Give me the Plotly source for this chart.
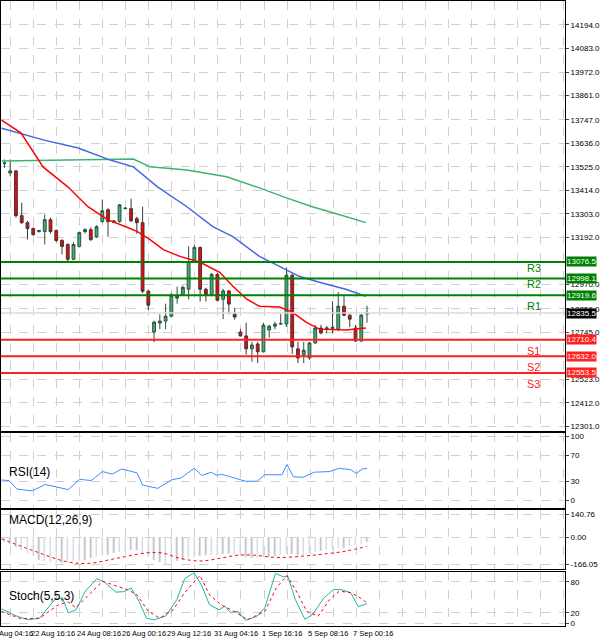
import plotly.graph_objects as go
from plotly.subplots import make_subplots

# candle OHLC
opens = [13540, 13496, 13506, 13295, 13262, 13234, 13220, 13220, 13276, 13225, 13178, 13159, 13089, 13150, 13220, 13229,
         13196, 13267, 13323, 13270, 13267, 13328, 13328, 13281, 13262, 12939, 12746, 12789, 12798, 12821, 12906, 12924,
         12948, 13079, 13145, 12948, 12924, 13018, 12901, 12940, 12831, 12746, 12728, 12667, 12690, 12653, 12756, 12774,
         12784, 12784, 13014, 12667, 12640, 12624, 12695, 12765, 12760, 12762, 12760, 12868, 12826, 12765, 12704, 12831]
highs = [13560, 13560, 13510, 13356, 13270, 13240, 13228, 13300, 13285, 13230, 13185, 13165, 13170, 13220, 13235, 13240,
         13250, 13370, 13330, 13275, 13350, 13335, 13375, 13290, 13337, 12945, 12800, 12830, 12880, 12930, 12960, 12965,
         13150, 13159, 13150, 12955, 13025, 13025, 12950, 12945, 12860, 12760, 12790, 12700, 12700, 12790, 12780, 12795,
         12830, 13051, 13020, 12700, 12700, 12700, 12780, 12780, 12775, 12892, 12934, 12915, 12830, 12780, 12830, 12870]
lows = [13520, 13480, 13285, 13255, 13182, 13200, 13215, 13159, 13210, 13170, 13112, 13080, 13085, 13145, 13210, 13175,
        13190, 13262, 13196, 13260, 13262, 13325, 13265, 13210, 12930, 12850, 12699, 12760, 12760, 12815, 12880, 12920,
        12900, 13075, 12890, 12890, 12915, 12890, 12807, 12830, 12805, 12725, 12640, 12606, 12600, 12650, 12720, 12760,
        12780, 12770, 12643, 12600, 12600, 12615, 12690, 12735, 12740, 12740, 12750, 12820, 12770, 12700, 12700, 12790]
closes = [13543, 13506, 13295, 13262, 13234, 13206, 13225, 13276, 13220, 13178, 13150, 13089, 13159, 13215, 13229, 13182,
          13243, 13318, 13267, 13265, 13346, 13330, 13271, 13262, 12939, 12873, 12793, 12798, 12821, 12920, 12915, 12957,
          13079, 13145, 12948, 12924, 13018, 12896, 12940, 12878, 12817, 12728, 12667, 12685, 12653, 12779, 12774, 12784,
          12786, 13014, 12676, 12624, 12660, 12695, 12765, 12742, 12765, 12768, 12868, 12826, 12807, 12704, 12826, 12835]

# moving averages (index, value)
ma_red_x = [-0.5, 2.9, 6.7, 11, 14.5, 17.9, 21.4, 23.1, 25.3, 27.6, 30.5, 34, 37.4, 39.7, 42.1, 44.3, 47.8, 50, 52.4, 54.7, 59.3, 62.8]
ma_red_y = [13745, 13684, 13525, 13431, 13337, 13276, 13239, 13220, 13182, 13135, 13103, 13075, 13028, 12962, 12901, 12868,
            12864, 12840, 12793, 12760, 12756, 12765]
ma_blue_x = [-0.5, 6.9, 12.8, 18.4, 22.4, 26.6, 31.7, 36.2, 39.7, 44.3, 47.8, 51.2, 54.7, 59.3, 62.8]
ma_blue_y = [13707, 13651, 13614, 13557, 13525, 13431, 13337, 13243, 13196, 13103, 13056, 13009, 12981, 12948, 12915]
ma_green_x = [-0.5, 6.9, 22.4, 25.3, 31.7, 38.6, 44.3, 49, 53.5, 58.1, 62.8]
ma_green_y = [13553, 13557, 13562, 13525, 13510, 13478, 13426, 13379, 13337, 13300, 13262]

levels = [13076.5, 12998.1, 12919.6, 12710.4, 12632.0, 12553.5]
# (name, level index, above/below)
level_tags = [("R3", 1, 'bottom'), ("R2", 2, 'bottom'), ("R1", 2, 'top'),
              ("S1", 3, 'top'), ("S2", 4, 'top'), ("S3", 5, 'top')]
last_price = 12835.5
price_ticks = [14194.0, 14083.0, 13972.0, 13861.0, 13747.0, 13636.0, 13525.0, 13414.0, 13303.0, 13192.0,
               12970.0, 12856.0, 12745.0, 12523.0, 12412.0, 12301.0]

rsi_zx = [0, 20, 40, 80, 115, 175, 205, 235, 265, 290, 315, 355, 370, 410, 445, 470, 505, 525, 550, 565, 575, 600, 640, 670,
          690, 735, 748, 765, 790, 820, 860, 885, 915, 930, 945, 958]
rsi_vals = [32, 31, 18, 15, 25, 17, 33, 31, 45, 41, 49, 43, 24, 19, 32, 35, 50, 39, 44, 39, 41, 37, 30, 30,
            40, 40, 56, 37, 36, 44, 45, 50, 48, 42, 49, 50]

macd_hist = [-30, -40, -60, -80, -100, -115, -140, -150, -155, -160, -160, -155, -150, -145, -140, -130, -125, -115,
             -110, -100, -90, -85, -80, -80, -95, -120, -140, -155, -170, -160, -150, -140, -130, -120, -115, -110,
             -110, -110, -105, -105, -110, -115, -125, -130, -130, -125, -120, -115, -110, -100, -105, -110, -110,
             -100, -90, -85, -80, -75, -70, -65, -55, -50, -40, -30]
macd_sig_x = [-0.5, 4.8, 10.8, 14.7, 19.4, 24.7, 27.3, 30.6, 34, 37.3, 40.6, 43.3, 47.2, 51.9, 55.2, 59.2, 63]
macd_sig = [-10, -80, -150, -160, -130, -96, -96, -130, -146, -130, -110, -110, -124, -116, -104, -86, -56]

stoch_zx = [0, 40, 70, 100, 140, 160, 175, 195, 220, 250, 270, 300, 320, 340, 360, 380, 400, 430, 460, 480, 505, 525, 545,
            570, 585, 600, 620, 640, 670, 690, 718, 740, 750, 770, 795, 815, 845, 870, 890, 915, 935, 958]
stoch_main = [28, 14, 7, 10, 46, 49, 20, 26, 62, 86, 79, 60, 61, 68, 43, 10, 7, 14, 46, 86, 97, 72, 36,
              26, 33, 21, 23, 6, 14, 30, 96, 89, 91, 46, 8, 17, 49, 65, 65, 59, 32, 38]
stoch_sig_zx = [0, 50, 100, 150, 175, 195, 225, 265, 300, 330, 355, 385, 415, 450, 480, 520, 545, 575, 610, 645, 690, 720,
                748, 775, 800, 830, 860, 885, 915, 940, 958]
stoch_sig = [23, 9, 10, 36, 41, 30, 52, 81, 72, 65, 55, 23, 10, 26, 59, 92, 55, 36, 23, 7, 23, 68, 92, 59, 23, 14,
             46, 62, 59, 49, 39]

date_pos = [1.2, 8.5, 16.4, 24.3, 32.1, 40.3, 48.3, 56.2, 64.1]
date_labels = ["19 Aug 04:16", "22 Aug 16:16", "24 Aug 08:16", "26 Aug 00:16", "29 Aug 12:16", "31 Aug 04:16",
               "1 Sep 16:16", "5 Sep 08:16", "7 Sep 00:16"]

FONT = 'Liberation Sans'


def zx_to_idx(v):
    # positions
    return [z / 15.08 - 0.52 for z in v]


idx = list(range(len(opens)))
fig = make_subplots(rows=4, cols=1, shared_xaxes=True, vertical_spacing=0.004,
                    row_heights=[0.69, 0.12, 0.095, 0.087])

fig.add_trace(go.Candlestick(x=idx, open=opens, high=highs, low=lows, close=closes,
                             increasing=dict(fillcolor='#3cb371', line=dict(color='#2f4f3f', width=1)),
                             decreasing=dict(fillcolor='#ff0000', line=dict(color='#3a3a3a', width=1)),
                             whiskerwidth=0, showlegend=False), row=1, col=1)
for xs, ys, c in [(ma_green_x, ma_green_y, '#3cb371'), (ma_blue_x, ma_blue_y, '#4169e1'), (ma_red_x, ma_red_y, '#ff0000')]:
    fig.add_trace(go.Scatter(x=xs, y=ys, mode='lines', line=dict(color=c, width=1.5), showlegend=False), row=1, col=1)

fig.add_hline(y=last_price, line_color='#d8d8d8', line_width=1.5, row=1, col=1)
for i, lv in enumerate(levels):
    col = '#008000' if i < 3 else '#ff2020'
    fig.add_hline(y=lv, line_color=col, line_width=2, row=1, col=1)
    fig.add_annotation(x=1.0, xref='paper', y=lv, yref='y', text='%.1f' % lv, showarrow=False, xanchor='left',
                       xshift=1, bgcolor=col, font=dict(color='white', size=8, family=FONT), borderpad=0)
for name, li, anchor in level_tags:
    col = '#008000' if li < 3 else '#ff2020'
    fig.add_annotation(x=92, xref='x', y=levels[li], yref='y', text=name, showarrow=False, yanchor=anchor,
                       yshift=3 if anchor == 'bottom' else -3, font=dict(color=col, size=11, family=FONT))
fig.add_annotation(x=1.0, xref='paper', y=last_price, yref='y', text='%.1f' % last_price, showarrow=False,
                   xanchor='left', xshift=1, bgcolor='black', font=dict(color='white', size=8, family=FONT),
                   borderpad=0)

fig.add_trace(go.Scatter(x=zx_to_idx(rsi_zx), y=rsi_vals, mode='lines', line=dict(color='#3c8cff', width=1),
                         showlegend=False), row=2, col=1)
fig.add_trace(go.Bar(x=idx, y=macd_hist, marker_color='#c0c0c0', width=0.25, showlegend=False), row=3, col=1)
fig.add_trace(go.Scatter(x=macd_sig_x, y=macd_sig, mode='lines', line=dict(color='#ff0000', width=1, dash='dot'),
                         line_shape='spline', showlegend=False), row=3, col=1)
fig.add_trace(go.Scatter(x=zx_to_idx(stoch_zx), y=stoch_main, mode='lines', line=dict(color='#20b2aa', width=1),
                         showlegend=False), row=4, col=1)
fig.add_trace(go.Scatter(x=zx_to_idx(stoch_sig_zx), y=stoch_sig, mode='lines',
                         line=dict(color='#ff0000', width=1, dash='dot'), showlegend=False), row=4, col=1)

for r, name, shift in [(2, 'RSI(14)', -30), (3, 'MACD(12,26,9)', -1), (4, 'Stoch(5,5,3)', -15)]:
    fig.add_annotation(x=0.01, xref='paper', y=1, yref='y%d domain' % r, text=name, showarrow=False,
                       xanchor='left', yanchor='top', yshift=shift,
                       font=dict(size=12, color='black', family=FONT))

for p, t in zip(date_pos, date_labels):
    fig.add_annotation(x=p, xref='x', y=0, yref='paper', text=t, showarrow=False, xanchor='center', yanchor='top',
                       yshift=-1, font=dict(size=7.5, color='black', family=FONT))

grid = dict(showgrid=True, gridcolor='#d0d0d0', griddash='dash', gridwidth=1)
fig.update_xaxes(range=[-0.6, 97.4], tick0=1.1, dtick=4, showticklabels=False, rangeslider_visible=False,
                 showline=True, linecolor='black', mirror=True, zeroline=False, **grid)
fig.update_yaxes(side='right', showline=True, linecolor='black', mirror=True, zeroline=False, ticks='outside',
                 ticklen=3, tickfont=dict(size=8, color='black', family=FONT), **grid)
fig.update_yaxes(range=[12282, 14307], tickvals=price_ticks, ticktext=['%.1f' % v for v in price_ticks], row=1, col=1)
fig.update_yaxes(range=[-11, 104.7], tickvals=[0, 30, 70, 100], row=2, col=1)
fig.update_yaxes(range=[-197, 166], tickvals=[-166.05, 0, 140.76], ticktext=['-166.05', '0.00', '140.76'], row=3, col=1)
fig.update_yaxes(range=[-5, 99], tickvals=[0, 20, 80, 100], row=4, col=1)

fig.update_layout(width=600, height=640, margin=dict(l=0, r=32, t=0, b=14), plot_bgcolor='white',
                  paper_bgcolor='white', font=dict(family=FONT, size=8), bargap=0)
fig.write_html("out.html", config={'displayModeBar': False}, post_script="document.body.style.margin='0';")
